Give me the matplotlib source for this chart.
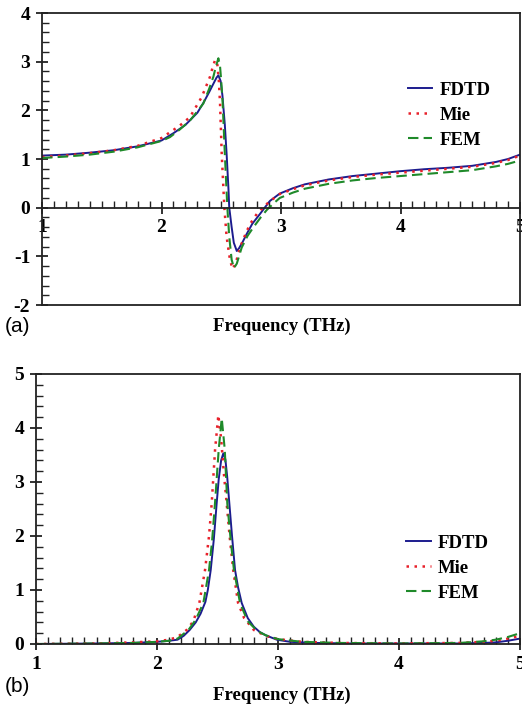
import matplotlib
matplotlib.use("Agg")
import matplotlib.pyplot as plt
from matplotlib.ticker import MultipleLocator

# ---------------- data: panel (a) ----------------
xa_fdtd = [1.0, 1.2, 1.4, 1.6, 1.8, 2.0, 2.1, 2.2, 2.3, 2.35, 2.4, 2.435, 2.46, 2.476, 2.495, 2.51,
           2.53, 2.545, 2.56, 2.567, 2.587, 2.605, 2.63, 2.65, 2.68, 2.713, 2.76, 2.824, 2.87, 2.908, 2.99,
           3.1, 3.2, 3.4, 3.6, 3.8, 4.0, 4.2, 4.4, 4.6, 4.8, 4.9, 5.0]
ya_fdtd = [1.07, 1.09, 1.13, 1.18, 1.26, 1.38, 1.53, 1.7, 1.95, 2.15, 2.38, 2.55, 2.67, 2.72, 2.6, 2.3,
           1.7, 1.1, 0.4, 0.0, -0.4, -0.72, -0.89, -0.83, -0.7, -0.54, -0.33, -0.13, 0.02, 0.14, 0.29,
           0.4, 0.48, 0.58, 0.65, 0.7, 0.75, 0.79, 0.82, 0.86, 0.94, 1.0, 1.09]

xa_mie = [1.0, 1.2, 1.4, 1.6, 1.8, 2.0, 2.071, 2.15, 2.238, 2.336, 2.406, 2.43, 2.448, 2.465, 2.48,
          2.49, 2.504, 2.526, 2.545, 2.573, 2.595, 2.62, 2.657, 2.7, 2.74, 2.8, 2.85, 2.9, 2.99,
          3.1, 3.2, 3.4, 3.6, 3.8, 4.0, 4.2, 4.4, 4.6, 4.8, 4.9, 5.0]
ya_mie = [1.04, 1.07, 1.12, 1.18, 1.27, 1.43, 1.55, 1.68, 1.86, 2.27, 2.69, 2.9, 3.03, 3.0, 2.6,
          2.14, 1.1, 0.0, -0.6, -1.07, -1.26, -1.15, -0.82, -0.56, -0.34, -0.12, 0.0, 0.12, 0.28,
          0.38, 0.46, 0.56, 0.63, 0.68, 0.72, 0.76, 0.8, 0.84, 0.92, 0.98, 1.07]

xa_fem = [1.0, 1.2, 1.4, 1.6, 1.8, 2.0, 2.071, 2.15, 2.238, 2.3, 2.35, 2.4, 2.434, 2.455, 2.476, 2.49,
          2.5, 2.512, 2.53, 2.551, 2.567, 2.587, 2.607, 2.63, 2.671, 2.72, 2.77, 2.83, 2.88, 2.93, 2.99,
          3.1, 3.2, 3.4, 3.6, 3.8, 4.0, 4.2, 4.4, 4.6, 4.8, 4.9, 5.0]
ya_fem = [1.02, 1.05, 1.09, 1.15, 1.24, 1.37, 1.45, 1.6, 1.79, 1.98, 2.14, 2.45, 2.69, 2.9, 3.07, 2.9,
          2.6, 2.14, 1.1, 0.0, -0.6, -1.07, -1.24, -1.15, -0.82, -0.58, -0.4, -0.2, -0.05, 0.07, 0.2,
          0.31, 0.39, 0.49, 0.56, 0.61, 0.65, 0.69, 0.73, 0.77, 0.85, 0.9, 0.97]

# ---------------- data: panel (b) ----------------
xb_fdtd = [1.0, 1.5, 1.8, 2.0, 2.1, 2.17, 2.22, 2.27, 2.32, 2.36, 2.40, 2.42, 2.444, 2.47, 2.493, 2.51,
           2.53, 2.548, 2.565, 2.58, 2.598, 2.62, 2.645, 2.67, 2.70, 2.75, 2.8, 2.85, 2.9, 2.99, 3.1,
           3.3, 3.6, 4.0, 4.5, 4.7, 4.8, 4.9, 5.0]
yb_fdtd = [0.0, 0.01, 0.02, 0.04, 0.06, 0.08, 0.15, 0.26, 0.4, 0.56, 0.78, 1.0, 1.37, 1.95, 2.6, 3.05,
           3.4, 3.53, 3.42, 3.1, 2.6, 2.0, 1.37, 1.05, 0.76, 0.48, 0.32, 0.22, 0.16, 0.08, 0.04,
           0.02, 0.01, 0.01, 0.01, 0.02, 0.03, 0.06, 0.1]

xb_mie = [1.0, 1.5, 1.8, 2.0, 2.1, 2.17, 2.245, 2.3, 2.35, 2.397, 2.43, 2.452, 2.48, 2.507, 2.53, 2.555,
          2.576, 2.60, 2.63, 2.67, 2.72, 2.80, 2.9, 3.0, 3.2, 3.5, 4.0, 4.5, 4.7, 4.8, 4.9, 5.0]
yb_mie = [0.0, 0.01, 0.03, 0.05, 0.08, 0.13, 0.26, 0.42, 0.76, 1.37, 2.0, 2.6, 3.6, 4.24, 3.8, 3.1,
          2.6, 2.0, 1.37, 0.76, 0.48, 0.26, 0.15, 0.09, 0.04, 0.02, 0.01, 0.02, 0.04, 0.06, 0.1, 0.15]

xb_fem = [1.0, 1.5, 1.8, 2.0, 2.1, 2.17, 2.26, 2.32, 2.383, 2.43, 2.455, 2.479, 2.51, 2.535, 2.56, 2.581,
          2.61, 2.636, 2.686, 2.75, 2.83, 2.9, 3.0, 3.2, 3.5, 4.0, 4.5, 4.7, 4.8, 4.9, 5.0]
yb_fem = [0.0, 0.01, 0.02, 0.04, 0.06, 0.1, 0.26, 0.45, 0.76, 1.37, 1.9, 2.6, 3.6, 4.18, 3.6, 2.6,
          1.9, 1.37, 0.76, 0.42, 0.24, 0.16, 0.09, 0.04, 0.02, 0.01, 0.02, 0.05, 0.08, 0.13, 0.2]

labels = ["FDTD", "Mie", "FEM"]
xticks = [1, 2, 3, 4, 5]
yticks_a = [-2, -1, 0, 1, 2, 3, 4]
yticks_b = [0, 1, 2, 3, 4, 5]

C_FDTD = "#1c1c8e"
C_MIE = "#e8202a"
C_FEM = "#1f8a2a"

serif = ["Liberation Serif", "DejaVu Serif"]
sans = ["Liberation Sans", "DejaVu Sans"]
plt.rcParams["font.family"] = serif
plt.rcParams["font.weight"] = "bold"
plt.rcParams["axes.unicode_minus"] = False
TICK_FS = 14
plt.rcParams["xtick.labelsize"] = TICK_FS
plt.rcParams["ytick.labelsize"] = TICK_FS

fig = plt.figure(figsize=(5.22, 7.08), dpi=100)

ax1 = fig.add_axes([42/522, 1-305/708, 478/522, 292/708])
ax2 = fig.add_axes([36/522, 1-644/708, 484/522, 270/708])


def style(ax, yticks):
    for s in ax.spines.values():
        s.set_linewidth(1.3)
        s.set_color("#222222")
    ax.set_xlim(1, 5)
    ax.set_ylim(yticks[0], yticks[-1])
    ax.set_xticks(xticks)
    ax.set_yticks(yticks)
    ax.xaxis.set_minor_locator(MultipleLocator(0.1))
    ax.yaxis.set_minor_locator(MultipleLocator(0.2))
    ax.tick_params(axis="both", which="major", direction="inout", length=9, width=1.3, color="#222222")
    ax.tick_params(axis="both", which="minor", direction="in", length=5, width=1.0, color="#222222")
    ax.tick_params(axis="x", which="major", pad=4)
    ax.tick_params(axis="y", which="major", pad=4)
    ax.tick_params(right=False, top=False, which="both")


def draw(ax, xs, ys):
    (x1, x2, x3), (y1, y2, y3) = xs, ys
    ax.plot(x1, y1, color=C_FDTD, lw=1.4, ls="-", label=labels[0])
    ax.plot(x2, y2, color=C_MIE, lw=1.8, ls=(0, (1, 2.2)), label=labels[1])
    ax.plot(x3, y3, color=C_FEM, lw=1.5, ls=(0, (5, 2.5)), label=labels[2])


# panel (a)
draw(ax1, (xa_fdtd, xa_mie, xa_fem), (ya_fdtd, ya_mie, ya_fem))
style(ax1, yticks_a)
ax1.spines["bottom"].set_position(("data", 0))
ax1.axhline(-2, color="#222222", lw=1.3, clip_on=False)

# panel (b)
draw(ax2, (xb_fdtd, xb_mie, xb_fem), (yb_fdtd, yb_mie, yb_fem))
style(ax2, yticks_b)

leg_kw = dict(frameon=False, loc="upper left", borderpad=0, borderaxespad=0,
              handlelength=1.3, handletextpad=0.4, labelspacing=0.42,
              prop={"family": serif, "weight": "bold", "size": 13.5})
ax1.legend(bbox_to_anchor=(0.765, 0.765), **leg_kw)
ax2.legend(bbox_to_anchor=(0.765, 0.405), **leg_kw)

# axis titles and panel labels
fig.text(282/522, 1-326/708, "Frequency (THz)", ha="center", va="center",
         fontweight="bold", fontsize=13.5)
fig.text(282/522, 1-695/708, "Frequency (THz)", ha="center", va="center",
         fontweight="bold", fontsize=13.5)
fig.text(5/522, 1-326/708, "(a)", ha="left", va="center",
         fontfamily=sans, fontweight="normal", fontsize=15)
fig.text(5/522, 1-686/708, "(b)", ha="left", va="center",
         fontfamily=sans, fontweight="normal", fontsize=15)

fig.savefig("out.png", dpi=100)
